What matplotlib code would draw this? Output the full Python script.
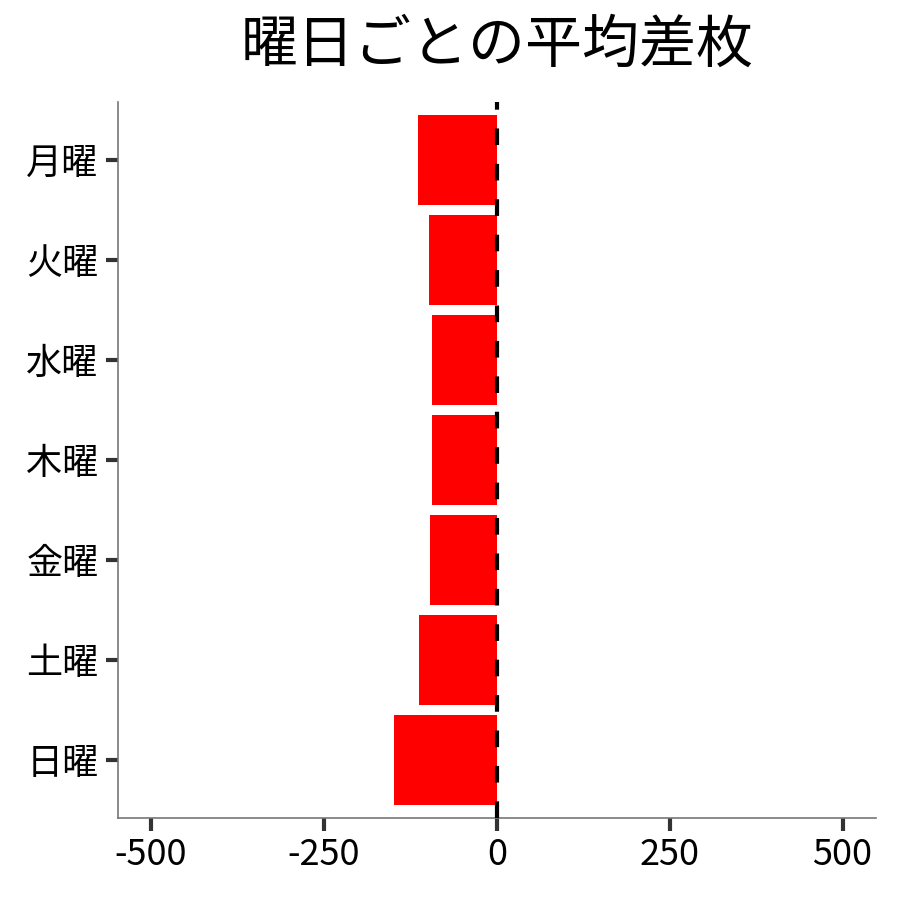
import matplotlib
matplotlib.use("Agg")
import matplotlib.pyplot as plt

days = ["月曜", "火曜", "水曜", "木曜", "金曜", "土曜", "日曜"]
avg_diff = [-114, -98, -94, -93, -96, -113, -148]
x_ticks = [-500, -250, 0, 250, 500]

plt.rcParams["font.family"] = ["Noto Sans CJK JP", "DejaVu Sans"]

fig = plt.figure(figsize=(9, 9), dpi=100)
ax = fig.add_axes([0.131, 0.0911, 0.842, 0.7956])

pos = list(range(len(days)))
ax.barh(pos, avg_diff, height=0.9, color="#ff0000", zorder=2)
ax.axvline(0, color="black", linestyle=(0, (4, 4.5)), linewidth=3, zorder=3)

ax.set_xlim(-548, 548)
ax.set_ylim(len(days) - 1 + 0.58, -0.58)
ax.set_yticks(pos)
ax.set_yticklabels(days)
ax.set_xticks(x_ticks)
ax.set_xticklabels([str(v) for v in x_ticks])

ax.tick_params(axis="both", labelsize=26, length=9, width=3, color="#333333",
               pad=5)
for side in ["top", "right"]:
    ax.spines[side].set_visible(False)
for side in ["left", "bottom"]:
    ax.spines[side].set_color("#777777")
    ax.spines[side].set_linewidth(1.2)

fig.text(0.552, 0.95, "曜日ごとの平均差枚", fontsize=41, ha="center", va="center")

fig.savefig("out.png", dpi=100)
